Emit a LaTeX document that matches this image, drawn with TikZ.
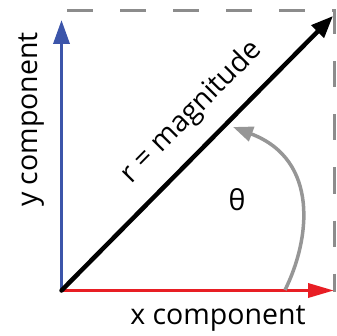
\documentclass[tikz,border=0pt]{standalone}
\usepackage{fontspec}
\setmainfont{Open Sans}
\usetikzlibrary{arrows.meta,calc}
\definecolor{vblue}{RGB}{60,85,170}
\definecolor{vred}{RGB}{232,30,36}
\definecolor{dgray}{RGB}{140,140,140}
\definecolor{agray}{RGB}{150,150,150}
\tikzset{
  lbl/.style={inner sep=0pt, font=\fontsize{28.5}{31}\selectfont},
  comp/.style={line width=3.5pt},
}
\begin{document}
\begin{tikzpicture}[x=1pt,y=-1pt]
\useasboundingbox (0,0) rectangle (336,336);
\coordinate (O) at (61.5,290.5);
\coordinate (X) at (334,290.5);
\coordinate (Y) at (61.5,20);
\coordinate (R) at (333,16);
\coordinate (DS) at (67,10.5);
\coordinate (DC) at (334,10.5);
\coordinate (DE) at (334,292);
\coordinate (A0) at (285,290);
\coordinate (A1) at (233,127);
% dashed frame
\draw[dgray, line width=3pt, dash pattern=on 26pt off 27pt] (DS) -- (DC) -- (DE);
% components
\draw[comp, vblue, -{Triangle[length=24pt,width=16pt]}] (O) -- (Y);
\draw[comp, vred, -{Triangle[length=26pt,width=14pt]}] (O) -- (X);
% magnitude
\draw[line width=4.5pt, black, line cap=round, -{Triangle[length=22pt,width=17pt]}] (O) -- (R)
  node[lbl, pos=0.565, sloped, above=16pt] {r = magnitude};
% angle arc
\draw[agray, line width=3.5pt, -{Triangle[length=20pt,width=15pt]}] (A0) .. controls (310,240) and (320,160) .. (A1);
% labels
\node[lbl, anchor=base] (xl) at (218,324) {x component};
\node[lbl, anchor=base, rotate=90] (yl) at (37,119.5) {y component};
\node[lbl] (th) at (237,200) {θ};
\end{tikzpicture}
\end{document}
